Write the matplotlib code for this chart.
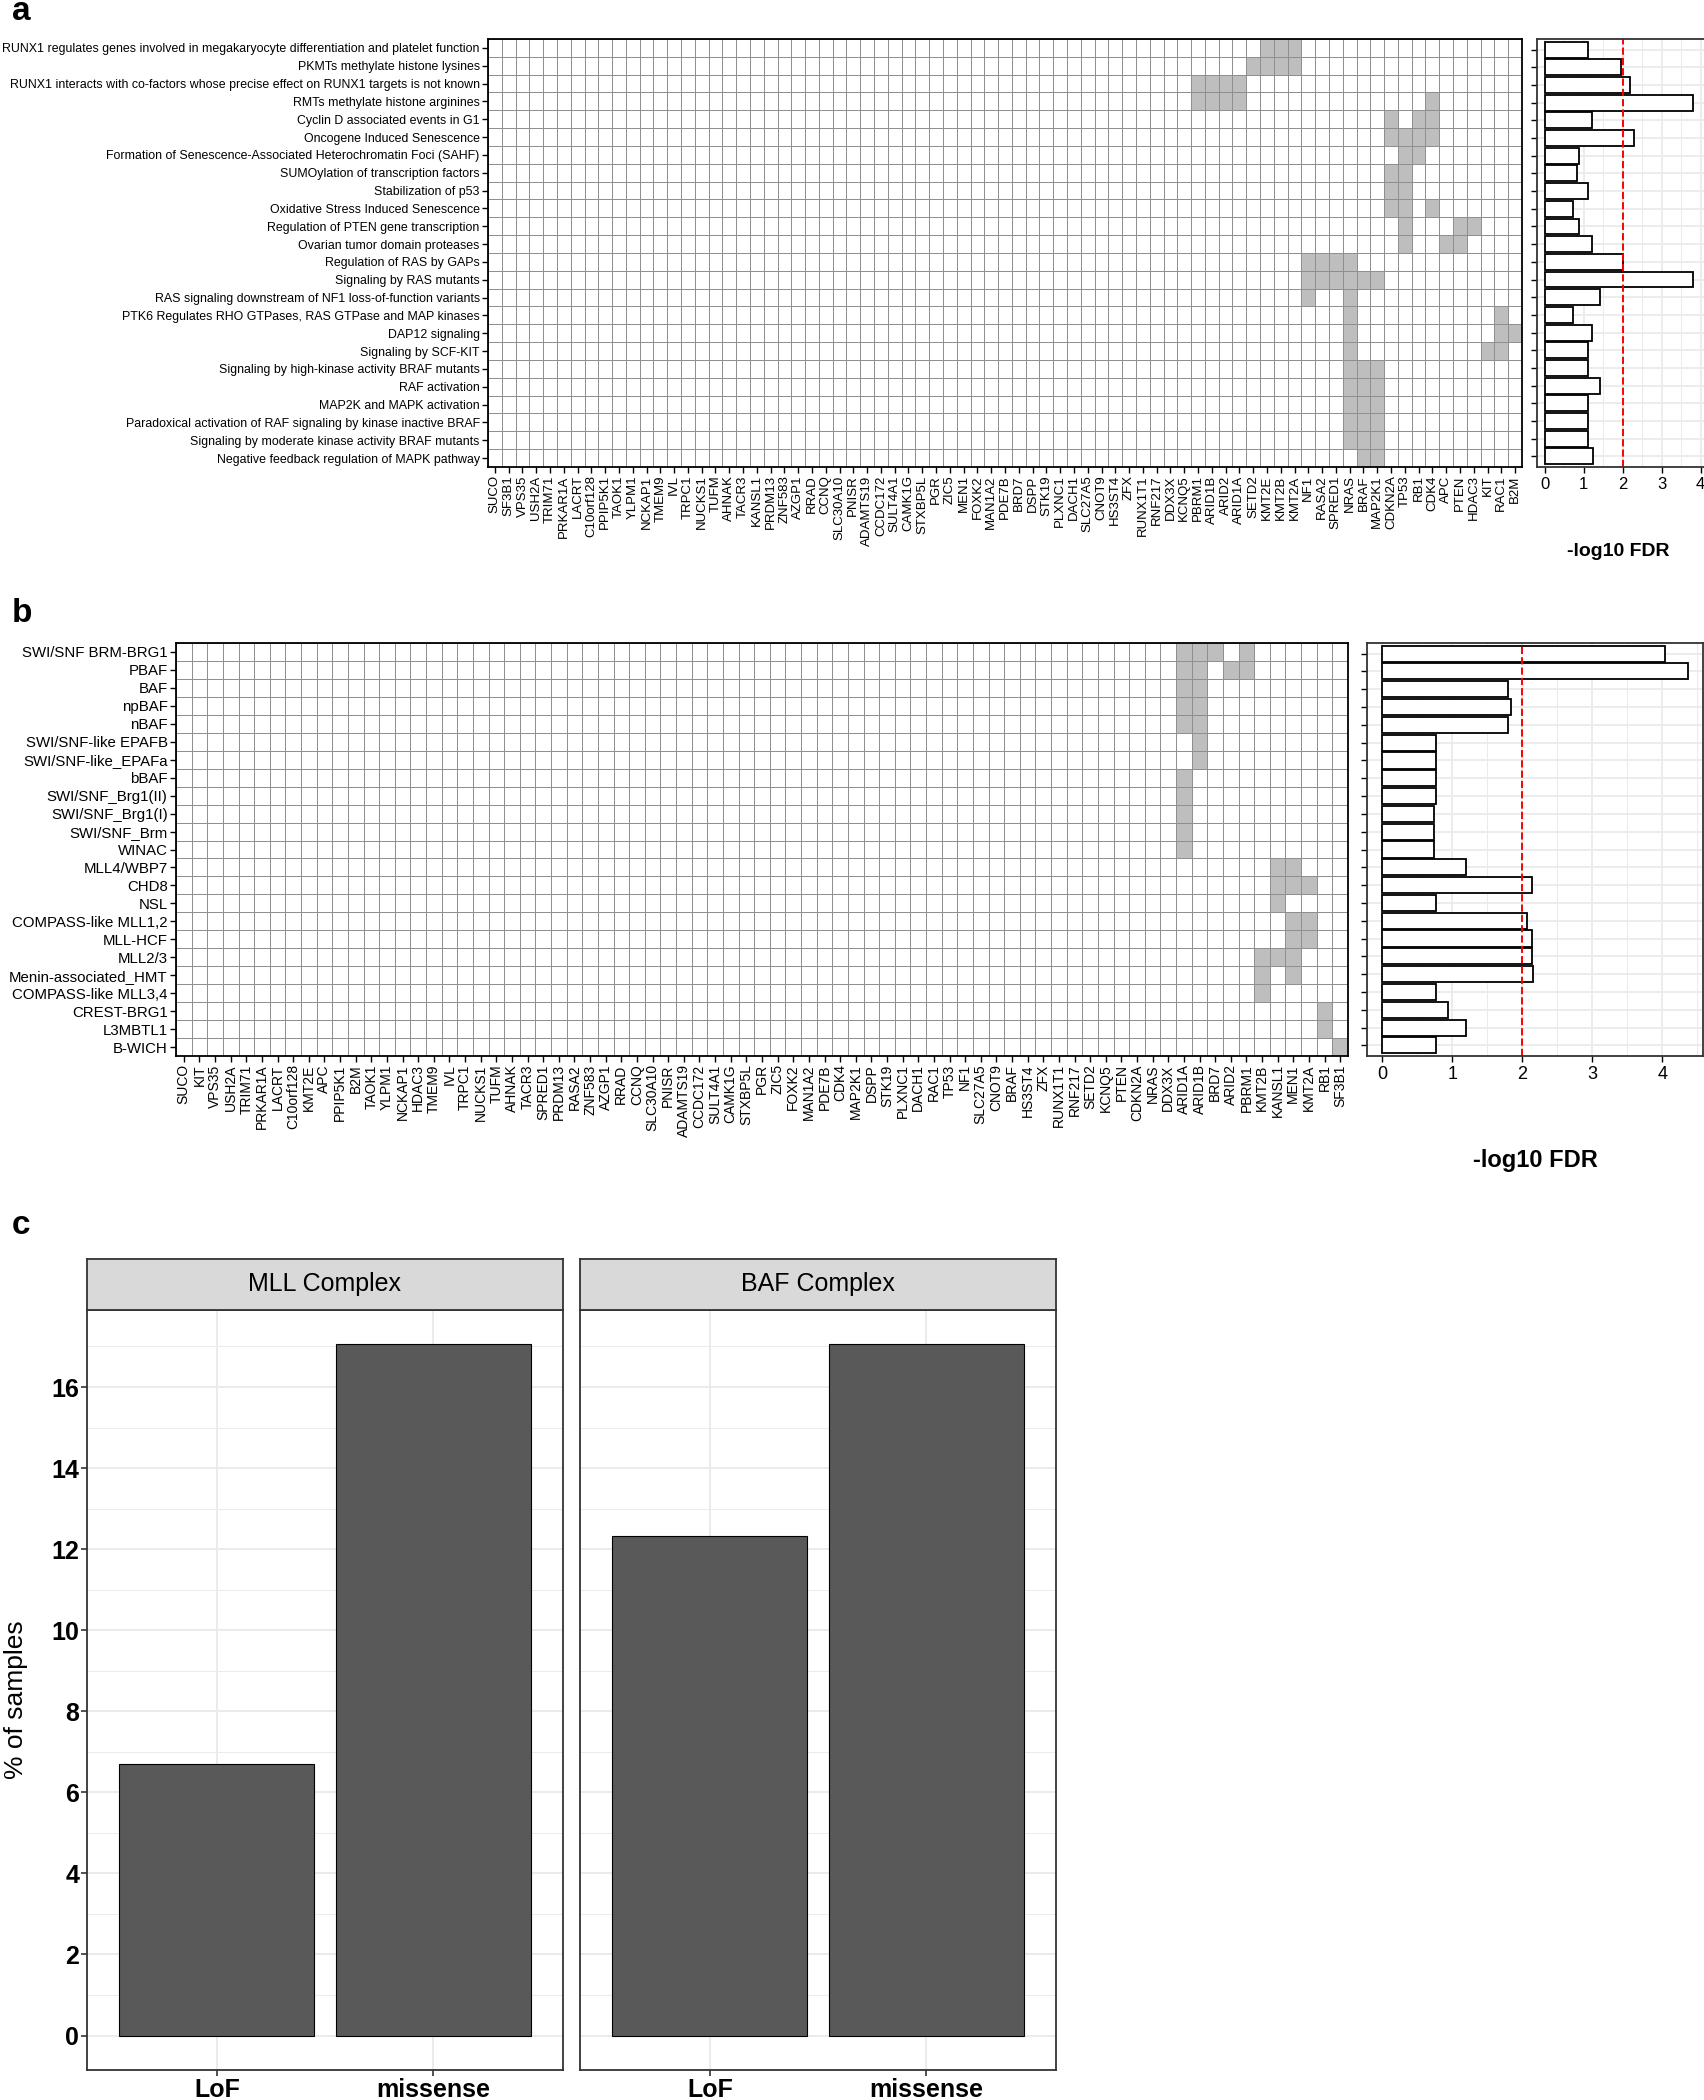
import matplotlib.pyplot as plt
import numpy as np
from matplotlib.colors import ListedColormap

plt.rcParams['font.family'] = ['Liberation Sans', 'DejaVu Sans']

# ---- panel a data ----
pathways_a = [
    'RUNX1 regulates genes involved in megakaryocyte differentiation and platelet function',
    'PKMTs methylate histone lysines',
    'RUNX1 interacts with co-factors whose precise effect on RUNX1 targets is not known',
    'RMTs methylate histone arginines',
    'Cyclin D associated events in G1',
    'Oncogene Induced Senescence',
    'Formation of Senescence-Associated Heterochromatin Foci (SAHF)',
    'SUMOylation of transcription factors',
    'Stabilization of p53',
    'Oxidative Stress Induced Senescence',
    'Regulation of PTEN gene transcription',
    'Ovarian tumor domain proteases',
    'Regulation of RAS by GAPs',
    'Signaling by RAS mutants',
    'RAS signaling downstream of NF1 loss-of-function variants',
    'PTK6 Regulates RHO GTPases, RAS GTPase and MAP kinases',
    'DAP12 signaling',
    'Signaling by SCF-KIT',
    'Signaling by high-kinase activity BRAF mutants',
    'RAF activation',
    'MAP2K and MAPK activation',
    'Paradoxical activation of RAF signaling by kinase inactive BRAF',
    'Signaling by moderate kinase activity BRAF mutants',
    'Negative feedback regulation of MAPK pathway',
]
genes_a = ['SUCO', 'SF3B1', 'VPS35', 'USH2A', 'TRIM71', 'PRKAR1A', 'LACRT', 'C10orf128',
           'PPIP5K1', 'TAOK1', 'YLPM1', 'NCKAP1', 'TMEM9', 'IVL', 'TRPC1', 'NUCKS1', 'TUFM',
           'AHNAK', 'TACR3', 'KANSL1', 'PRDM13', 'ZNF583', 'AZGP1', 'RRAD', 'CCNQ', 'SLC30A10',
           'PNISR', 'ADAMTS19', 'CCDC172', 'SULT4A1', 'CAMK1G', 'STXBP5L', 'PGR', 'ZIC5', 'MEN1',
           'FOXK2', 'MAN1A2', 'PDE7B', 'BRD7', 'DSPP', 'STK19', 'PLXNC1', 'DACH1', 'SLC27A5',
           'CNOT9', 'HS3ST4', 'ZFX', 'RUNX1T1', 'RNF217', 'DDX3X', 'KCNQ5', 'PBRM1', 'ARID1B',
           'ARID2', 'ARID1A', 'SETD2', 'KMT2E', 'KMT2B', 'KMT2A', 'NF1', 'RASA2', 'SPRED1', 'NRAS',
           'BRAF', 'MAP2K1', 'CDKN2A', 'TP53', 'RB1', 'CDK4', 'APC', 'PTEN', 'HDAC3', 'KIT',
           'RAC1', 'B2M']
hits_a = [
    ['KMT2E', 'KMT2B', 'KMT2A'],
    ['SETD2', 'KMT2E', 'KMT2B', 'KMT2A'],
    ['PBRM1', 'ARID1B', 'ARID2', 'ARID1A'],
    ['PBRM1', 'ARID1B', 'ARID2', 'ARID1A', 'CDK4'],
    ['CDKN2A', 'RB1', 'CDK4'],
    ['CDKN2A', 'TP53', 'RB1', 'CDK4'],
    ['TP53', 'RB1'],
    ['CDKN2A', 'TP53'],
    ['CDKN2A', 'TP53'],
    ['CDKN2A', 'TP53', 'CDK4'],
    ['TP53', 'PTEN', 'HDAC3'],
    ['TP53', 'APC', 'PTEN'],
    ['NF1', 'RASA2', 'SPRED1', 'NRAS'],
    ['NF1', 'RASA2', 'SPRED1', 'NRAS', 'BRAF', 'MAP2K1'],
    ['NF1', 'NRAS'],
    ['NRAS', 'RAC1'],
    ['NRAS', 'RAC1', 'B2M'],
    ['NRAS', 'KIT', 'RAC1'],
    ['NRAS', 'BRAF', 'MAP2K1'],
    ['NRAS', 'BRAF', 'MAP2K1'],
    ['NRAS', 'BRAF', 'MAP2K1'],
    ['NRAS', 'BRAF', 'MAP2K1'],
    ['NRAS', 'BRAF', 'MAP2K1'],
    ['BRAF', 'MAP2K1'],
]
fdr_a = [1.10, 1.97, 2.20, 3.81, 1.20, 2.29, 0.88, 0.82, 1.10, 0.73, 0.88, 1.20,
         2.00, 3.81, 1.41, 0.73, 1.20, 1.10, 1.10, 1.42, 1.10, 1.10, 1.10, 1.25]

# ---- panel b data ----
complexes_b = ['SWI/SNF BRM-BRG1', 'PBAF', 'BAF', 'npBAF', 'nBAF', 'SWI/SNF-like EPAFB',
               'SWI/SNF-like_EPAFa', 'bBAF', 'SWI/SNF_Brg1(II)', 'SWI/SNF_Brg1(I)',
               'SWI/SNF_Brm', 'WINAC', 'MLL4/WBP7', 'CHD8', 'NSL', 'COMPASS-like MLL1,2',
               'MLL-HCF', 'MLL2/3', 'Menin-associated_HMT', 'COMPASS-like MLL3,4',
               'CREST-BRG1', 'L3MBTL1', 'B-WICH']
genes_b = ['SUCO', 'KIT', 'VPS35', 'USH2A', 'TRIM71', 'PRKAR1A', 'LACRT', 'C10orf128', 'KMT2E',
           'APC', 'PPIP5K1', 'B2M', 'TAOK1', 'YLPM1', 'NCKAP1', 'HDAC3', 'TMEM9', 'IVL', 'TRPC1',
           'NUCKS1', 'TUFM', 'AHNAK', 'TACR3', 'SPRED1', 'PRDM13', 'RASA2', 'ZNF583', 'AZGP1',
           'RRAD', 'CCNQ', 'SLC30A10', 'PNISR', 'ADAMTS19', 'CCDC172', 'SULT4A1', 'CAMK1G',
           'STXBP5L', 'PGR', 'ZIC5', 'FOXK2', 'MAN1A2', 'PDE7B', 'CDK4', 'MAP2K1', 'DSPP', 'STK19',
           'PLXNC1', 'DACH1', 'RAC1', 'TP53', 'NF1', 'SLC27A5', 'CNOT9', 'BRAF', 'HS3ST4', 'ZFX',
           'RUNX1T1', 'RNF217', 'SETD2', 'KCNQ5', 'PTEN', 'CDKN2A', 'NRAS', 'DDX3X', 'ARID1A',
           'ARID1B', 'BRD7', 'ARID2', 'PBRM1', 'KMT2B', 'KANSL1', 'MEN1', 'KMT2A', 'RB1', 'SF3B1']
hits_b = [
    ['ARID1A', 'ARID1B', 'BRD7', 'PBRM1'],
    ['ARID1A', 'ARID1B', 'ARID2', 'PBRM1'],
    ['ARID1A', 'ARID1B'],
    ['ARID1A', 'ARID1B'],
    ['ARID1A', 'ARID1B'],
    ['ARID1B'],
    ['ARID1B'],
    ['ARID1A'],
    ['ARID1A'],
    ['ARID1A'],
    ['ARID1A'],
    ['ARID1A'],
    ['KANSL1', 'MEN1'],
    ['KANSL1', 'MEN1', 'KMT2A'],
    ['KANSL1'],
    ['MEN1', 'KMT2A'],
    ['MEN1', 'KMT2A'],
    ['KMT2B', 'KANSL1', 'MEN1'],
    ['KMT2B', 'MEN1'],
    ['KMT2B'],
    ['RB1'],
    ['RB1'],
    ['SF3B1'],
]
fdr_b = [4.04, 4.36, 1.79, 1.84, 1.79, 0.76, 0.76, 0.76, 0.76, 0.74, 0.74, 0.74,
         1.19, 2.14, 0.76, 2.07, 2.13, 2.13, 2.15, 0.76, 0.93, 1.19, 0.76]

# ---- panel c data ----
facets_c = ['MLL Complex', 'BAF Complex']
variant_types = ['LoF', 'missense']
pct_mll = [6.71, 17.07]
pct_baf = [12.32, 17.07]

W, H = 1704, 2100
fig = plt.figure(figsize=(W / 100, H / 100), dpi=100)


def box(x0, y0, x1, y1):
    # pixel box (top-left origin) -> figure axes rect
    return [x0 / W, 1 - y1 / H, (x1 - x0) / W, (y1 - y0) / H]


def heatmap(ax, rows, genes, hits, fs_rows, fs_genes):
    m = np.array([[1 if g in h else 0 for g in genes] for h in hits])
    ax.pcolormesh(np.arange(len(genes) + 1) - 0.5, np.arange(len(rows) + 1) - 0.5, m,
                  cmap=ListedColormap(['white', '#bebebe']), vmin=0, vmax=1,
                  edgecolors='#8f8f8f', linewidth=0.6)
    ax.set_xlim(-0.5, len(genes) - 0.5)
    ax.set_ylim(len(rows) - 0.5, -0.5)
    ax.set_xticks(range(len(genes)))
    ax.set_xticklabels(genes, rotation=90, fontsize=fs_genes)
    ax.set_yticks(range(len(rows)))
    ax.set_yticklabels(rows, fontsize=fs_rows)
    ax.tick_params(length=4, width=1, pad=2, colors='black')
    for s in ax.spines.values():
        s.set_linewidth(1.3)


def fdr_bars(ax, vals, xlim, fs):
    n = len(vals)
    ax.set_axisbelow(True)
    ax.barh(range(n), vals, height=0.9, color='white', edgecolor='black', linewidth=1.3)
    ax.axvline(2, color='red', linestyle='--', linewidth=1.4)
    ax.set_ylim(n - 0.4, -0.6)
    ax.set_xlim(*xlim)
    ax.set_xticks([0, 1, 2, 3, 4])
    ax.set_xticks(np.arange(0.5, 4.6, 1), minor=True)
    ax.set_yticks(range(n))
    ax.set_yticklabels([])
    ax.grid(which='major', color='#ebebeb', linewidth=1.3)
    ax.grid(which='minor', axis='x', color='#ebebeb', linewidth=0.7)
    ax.tick_params(which='major', length=4, width=1, labelsize=fs, colors='black', pad=3)
    ax.tick_params(which='minor', length=0)
    for s in ax.spines.values():
        s.set_linewidth(1.3)
        s.set_color('#333333')


# panel a
ax_ha = fig.add_axes(box(488, 39, 1522, 467))
heatmap(ax_ha, pathways_a, genes_a, hits_a, 8.9, 9.5)
ax_ba = fig.add_axes(box(1537, 39, 1720, 467))
fdr_bars(ax_ba, fdr_a, (-0.2, 4.2), 12)
fig.text(1618 / W, 1 - 551 / H, '-log10 FDR', fontsize=14, fontweight='bold',
         ha='center', va='center')
fig.text(12 / W, 1 - 12 / H, 'a', fontsize=24, fontweight='bold', ha='left', va='center')

# panel b
ax_hb = fig.add_axes(box(176, 643, 1348, 1056))
heatmap(ax_hb, complexes_b, genes_b, hits_b, 10.8, 10)
ax_bb = fig.add_axes(box(1367, 643, 1703, 1056))
fdr_bars(ax_bb, fdr_b, (-0.22, 4.58), 13)
fig.text(1535 / W, 1 - 1160 / H, '-log10 FDR', fontsize=17, fontweight='bold',
         ha='center', va='center')
fig.text(12 / W, 1 - 614 / H, 'b', fontsize=24, fontweight='bold', ha='left', va='center')

# panel c
fig.text(12 / W, 1 - 1226 / H, 'c', fontsize=24, fontweight='bold', ha='left', va='center')
for i, (name, vals) in enumerate(zip(facets_c, [pct_mll, pct_baf])):
    x0 = 87 + i * 493
    x1 = x0 + 476
    ax = fig.add_axes(box(x0, 1310, x1, 2070))
    ax.set_axisbelow(True)
    ax.bar([1, 2], vals, width=0.9, color='#595959', edgecolor='black', linewidth=0.8)
    ax.set_xlim(0.4, 2.6)
    ax.set_ylim(-0.85, 17.9)
    ax.set_xticks([1, 2])
    ax.set_xticklabels(variant_types, fontsize=18, fontweight='bold')
    ax.set_yticks(range(0, 17, 2))
    ax.set_yticks(range(1, 18, 2), minor=True)
    ax.grid(which='major', color='#ebebeb', linewidth=1.4)
    ax.grid(which='minor', axis='y', color='#ebebeb', linewidth=0.7)
    ax.tick_params(which='major', length=4, width=1.2, colors='#333333', labelcolor='black',
                   labelsize=18, pad=1.5)
    ax.tick_params(which='minor', length=0)
    for lab in ax.get_yticklabels():
        lab.set_fontweight('bold')
    if i > 0:
        ax.tick_params(axis='y', left=False, labelleft=False)
    for s in ax.spines.values():
        s.set_linewidth(1.3)
        s.set_color('#333333')
    st = fig.add_axes(box(x0, 1259, x1, 1310))
    st.set_facecolor('#d9d9d9')
    st.set_xticks([])
    st.set_yticks([])
    for s in st.spines.values():
        s.set_linewidth(1.3)
        s.set_color('#333333')
    st.text(0.5, 0.5, name, fontsize=18, ha='center', va='center', transform=st.transAxes)

fig.text(16 / W, 1 - 1700 / H, '% of samples', fontsize=19, rotation=90,
         ha='center', va='center')

fig.savefig('out.png', dpi=100)
